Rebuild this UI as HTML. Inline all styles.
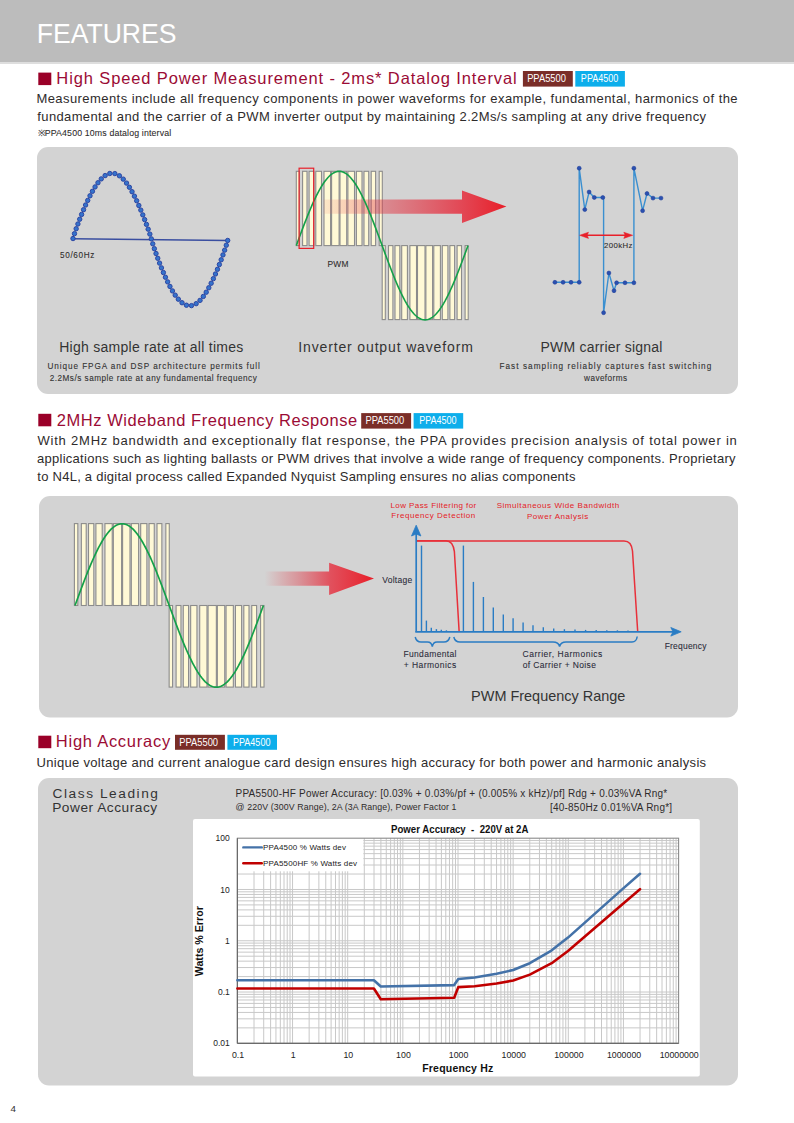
<!DOCTYPE html><html><head><meta charset="utf-8"><style>html,body{margin:0;padding:0;background:#fff;width:794px;height:1123px;overflow:hidden}svg{display:block}text{font-family:"Liberation Sans",sans-serif;white-space:pre}</style></head><body>
<svg width="794" height="1123" viewBox="0 0 794 1123">
<defs><linearGradient id="arrowg" x1="0" y1="0" x2="1" y2="0"><stop offset="0" stop-color="#e8202a" stop-opacity="0"/><stop offset="0.35" stop-color="#e23040" stop-opacity="0.45"/><stop offset="1" stop-color="#e8202a" stop-opacity="1"/></linearGradient></defs>
<rect x="0" y="0" width="794" height="62" fill="#bcbcbc"/>
<rect x="0" y="62" width="794" height="2" fill="#dedede"/>
<text x="36.72" y="42.90" font-size="28.5" fill="#ffffff" textLength="139.80" lengthAdjust="spacingAndGlyphs" >FEATURES</text>
<rect x="38.3" y="72.60" width="13" height="12.5" fill="#9a0028"/>
<text x="56.35" y="84.00" font-size="16.5" fill="#9b0b35" textLength="460.26" lengthAdjust="spacing" >High Speed Power Measurement - 2ms* Datalog Interval</text>
<rect x="522.90" y="71.00" width="49.90" height="15.60" fill="#7a2e28"/>
<text x="527.13" y="82.00" font-size="10.8" fill="#ffffff" textLength="38.83" lengthAdjust="spacingAndGlyphs" >PPA5500</text>
<rect x="575.30" y="71.00" width="49.60" height="15.60" fill="#0daeeb"/>
<text x="580.86" y="82.00" font-size="10.8" fill="#ffffff" textLength="37.49" lengthAdjust="spacingAndGlyphs" >PPA4500</text>
<text x="36.43" y="103.00" font-size="13" fill="#2e2b2b" textLength="701.14" lengthAdjust="spacing" >Measurements include all frequency components in power waveforms for example, fundamental, harmonics of the</text>
<text x="37.32" y="121.00" font-size="13" fill="#2e2b2b" textLength="668.71" lengthAdjust="spacing" >fundamental and the carrier of a PWM inverter output by maintaining 2.2Ms/s sampling at any drive frequency</text>
<text x="37.60" y="135.60" font-size="8.8" fill="#2e2b2b" textLength="133.59" lengthAdjust="spacing" stroke="#2e2b2b" stroke-width="0.08">※PPA4500 10ms datalog interval</text>
<rect x="37" y="147" width="701" height="247" rx="11" ry="11" fill="#d3d3d3"/>
<line x1="73.0" y1="238.7" x2="227.7" y2="240.6" stroke="#3a4ea0" stroke-width="1.5"/>
<circle cx="73.00" cy="238.55" r="2.2" fill="#3573cc" stroke="#2a42a0" stroke-width="0.95"/>
<circle cx="74.49" cy="233.65" r="2.2" fill="#3573cc" stroke="#2a42a0" stroke-width="0.95"/>
<circle cx="76.18" cy="228.74" r="2.2" fill="#3573cc" stroke="#2a42a0" stroke-width="0.95"/>
<circle cx="77.91" cy="223.98" r="2.2" fill="#3573cc" stroke="#2a42a0" stroke-width="0.95"/>
<circle cx="79.71" cy="219.21" r="2.2" fill="#3573cc" stroke="#2a42a0" stroke-width="0.95"/>
<circle cx="81.60" cy="214.45" r="2.2" fill="#3573cc" stroke="#2a42a0" stroke-width="0.95"/>
<circle cx="83.56" cy="209.70" r="2.2" fill="#3573cc" stroke="#2a42a0" stroke-width="0.95"/>
<circle cx="85.60" cy="205.01" r="2.2" fill="#3573cc" stroke="#2a42a0" stroke-width="0.95"/>
<circle cx="87.72" cy="200.41" r="2.2" fill="#3573cc" stroke="#2a42a0" stroke-width="0.95"/>
<circle cx="90.00" cy="195.81" r="2.2" fill="#3573cc" stroke="#2a42a0" stroke-width="0.95"/>
<circle cx="92.43" cy="191.30" r="2.2" fill="#3573cc" stroke="#2a42a0" stroke-width="0.95"/>
<circle cx="95.06" cy="186.93" r="2.2" fill="#3573cc" stroke="#2a42a0" stroke-width="0.95"/>
<circle cx="97.96" cy="182.75" r="2.2" fill="#3573cc" stroke="#2a42a0" stroke-width="0.95"/>
<circle cx="101.26" cy="178.88" r="2.2" fill="#3573cc" stroke="#2a42a0" stroke-width="0.95"/>
<circle cx="105.15" cy="175.57" r="2.2" fill="#3573cc" stroke="#2a42a0" stroke-width="0.95"/>
<circle cx="109.78" cy="173.49" r="2.2" fill="#3573cc" stroke="#2a42a0" stroke-width="0.95"/>
<circle cx="114.84" cy="173.58" r="2.2" fill="#3573cc" stroke="#2a42a0" stroke-width="0.95"/>
<circle cx="119.43" cy="175.80" r="2.2" fill="#3573cc" stroke="#2a42a0" stroke-width="0.95"/>
<circle cx="123.24" cy="179.14" r="2.2" fill="#3573cc" stroke="#2a42a0" stroke-width="0.95"/>
<circle cx="126.54" cy="183.09" r="2.2" fill="#3573cc" stroke="#2a42a0" stroke-width="0.95"/>
<circle cx="129.40" cy="187.28" r="2.2" fill="#3573cc" stroke="#2a42a0" stroke-width="0.95"/>
<circle cx="132.03" cy="191.71" r="2.2" fill="#3573cc" stroke="#2a42a0" stroke-width="0.95"/>
<circle cx="134.43" cy="196.19" r="2.2" fill="#3573cc" stroke="#2a42a0" stroke-width="0.95"/>
<circle cx="136.66" cy="200.76" r="2.2" fill="#3573cc" stroke="#2a42a0" stroke-width="0.95"/>
<circle cx="138.82" cy="205.48" r="2.2" fill="#3573cc" stroke="#2a42a0" stroke-width="0.95"/>
<circle cx="140.82" cy="210.11" r="2.2" fill="#3573cc" stroke="#2a42a0" stroke-width="0.95"/>
<circle cx="142.79" cy="214.89" r="2.2" fill="#3573cc" stroke="#2a42a0" stroke-width="0.95"/>
<circle cx="144.63" cy="219.59" r="2.2" fill="#3573cc" stroke="#2a42a0" stroke-width="0.95"/>
<circle cx="146.44" cy="224.38" r="2.2" fill="#3573cc" stroke="#2a42a0" stroke-width="0.95"/>
<circle cx="148.16" cy="229.17" r="2.2" fill="#3573cc" stroke="#2a42a0" stroke-width="0.95"/>
<circle cx="149.85" cy="234.09" r="2.2" fill="#3573cc" stroke="#2a42a0" stroke-width="0.95"/>
<circle cx="151.34" cy="238.88" r="2.2" fill="#3573cc" stroke="#2a42a0" stroke-width="0.95"/>
<circle cx="152.76" cy="243.84" r="2.2" fill="#3573cc" stroke="#2a42a0" stroke-width="0.95"/>
<circle cx="154.36" cy="248.71" r="2.2" fill="#3573cc" stroke="#2a42a0" stroke-width="0.95"/>
<circle cx="156.03" cy="253.55" r="2.2" fill="#3573cc" stroke="#2a42a0" stroke-width="0.95"/>
<circle cx="157.75" cy="258.28" r="2.2" fill="#3573cc" stroke="#2a42a0" stroke-width="0.95"/>
<circle cx="159.58" cy="263.12" r="2.2" fill="#3573cc" stroke="#2a42a0" stroke-width="0.95"/>
<circle cx="161.44" cy="267.85" r="2.2" fill="#3573cc" stroke="#2a42a0" stroke-width="0.95"/>
<circle cx="163.39" cy="272.55" r="2.2" fill="#3573cc" stroke="#2a42a0" stroke-width="0.95"/>
<circle cx="165.44" cy="277.24" r="2.2" fill="#3573cc" stroke="#2a42a0" stroke-width="0.95"/>
<circle cx="167.62" cy="281.87" r="2.2" fill="#3573cc" stroke="#2a42a0" stroke-width="0.95"/>
<circle cx="169.94" cy="286.44" r="2.2" fill="#3573cc" stroke="#2a42a0" stroke-width="0.95"/>
<circle cx="172.45" cy="290.90" r="2.2" fill="#3573cc" stroke="#2a42a0" stroke-width="0.95"/>
<circle cx="175.20" cy="295.16" r="2.2" fill="#3573cc" stroke="#2a42a0" stroke-width="0.95"/>
<circle cx="178.32" cy="299.18" r="2.2" fill="#3573cc" stroke="#2a42a0" stroke-width="0.95"/>
<circle cx="182.02" cy="302.74" r="2.2" fill="#3573cc" stroke="#2a42a0" stroke-width="0.95"/>
<circle cx="186.44" cy="305.22" r="2.2" fill="#3573cc" stroke="#2a42a0" stroke-width="0.95"/>
<circle cx="191.47" cy="305.62" r="2.2" fill="#3573cc" stroke="#2a42a0" stroke-width="0.95"/>
<circle cx="196.15" cy="303.66" r="2.2" fill="#3573cc" stroke="#2a42a0" stroke-width="0.95"/>
<circle cx="200.04" cy="300.36" r="2.2" fill="#3573cc" stroke="#2a42a0" stroke-width="0.95"/>
<circle cx="203.35" cy="296.41" r="2.2" fill="#3573cc" stroke="#2a42a0" stroke-width="0.95"/>
<circle cx="206.21" cy="292.20" r="2.2" fill="#3573cc" stroke="#2a42a0" stroke-width="0.95"/>
<circle cx="208.80" cy="287.77" r="2.2" fill="#3573cc" stroke="#2a42a0" stroke-width="0.95"/>
<circle cx="211.16" cy="283.27" r="2.2" fill="#3573cc" stroke="#2a42a0" stroke-width="0.95"/>
<circle cx="213.37" cy="278.67" r="2.2" fill="#3573cc" stroke="#2a42a0" stroke-width="0.95"/>
<circle cx="215.47" cy="273.99" r="2.2" fill="#3573cc" stroke="#2a42a0" stroke-width="0.95"/>
<circle cx="217.45" cy="269.30" r="2.2" fill="#3573cc" stroke="#2a42a0" stroke-width="0.95"/>
<circle cx="219.36" cy="264.55" r="2.2" fill="#3573cc" stroke="#2a42a0" stroke-width="0.95"/>
<circle cx="221.18" cy="259.79" r="2.2" fill="#3573cc" stroke="#2a42a0" stroke-width="0.95"/>
<circle cx="222.98" cy="254.91" r="2.2" fill="#3573cc" stroke="#2a42a0" stroke-width="0.95"/>
<circle cx="224.65" cy="250.15" r="2.2" fill="#3573cc" stroke="#2a42a0" stroke-width="0.95"/>
<circle cx="226.29" cy="245.23" r="2.2" fill="#3573cc" stroke="#2a42a0" stroke-width="0.95"/>
<circle cx="227.70" cy="240.45" r="2.2" fill="#3573cc" stroke="#2a42a0" stroke-width="0.95"/>
<text x="59.97" y="258.00" font-size="8.2" fill="#2e2b2b" textLength="34.44" lengthAdjust="spacing" stroke="#2e2b2b" stroke-width="0.08">50/60Hz</text>
<rect x="296.30" y="171.30" width="3.10" height="74.30" fill="#fff9d6" stroke="#8c8c8c" stroke-width="1.1"/>
<rect x="302.60" y="171.30" width="4.40" height="74.30" fill="#fff9d6" stroke="#8c8c8c" stroke-width="1.1"/>
<rect x="309.10" y="171.30" width="4.80" height="74.30" fill="#fff9d6" stroke="#8c8c8c" stroke-width="1.1"/>
<rect x="315.80" y="171.30" width="5.70" height="74.30" fill="#fff9d6" stroke="#8c8c8c" stroke-width="1.1"/>
<rect x="324.00" y="171.30" width="6.60" height="74.30" fill="#fff9d6" stroke="#8c8c8c" stroke-width="1.1"/>
<rect x="331.60" y="171.30" width="7.50" height="74.30" fill="#fff9d6" stroke="#8c8c8c" stroke-width="1.1"/>
<rect x="340.00" y="171.30" width="6.70" height="74.30" fill="#fff9d6" stroke="#8c8c8c" stroke-width="1.1"/>
<rect x="347.90" y="171.30" width="6.60" height="74.30" fill="#fff9d6" stroke="#8c8c8c" stroke-width="1.1"/>
<rect x="356.40" y="171.30" width="5.60" height="74.30" fill="#fff9d6" stroke="#8c8c8c" stroke-width="1.1"/>
<rect x="364.00" y="171.30" width="4.70" height="74.30" fill="#fff9d6" stroke="#8c8c8c" stroke-width="1.1"/>
<rect x="371.20" y="171.30" width="4.40" height="74.30" fill="#fff9d6" stroke="#8c8c8c" stroke-width="1.1"/>
<rect x="379.20" y="171.30" width="3.10" height="74.30" fill="#fff9d6" stroke="#8c8c8c" stroke-width="1.1"/>
<rect x="382.20" y="245.60" width="3.10" height="74.00" fill="#fff9d6" stroke="#8c8c8c" stroke-width="1.1"/>
<rect x="388.50" y="245.60" width="4.40" height="74.00" fill="#fff9d6" stroke="#8c8c8c" stroke-width="1.1"/>
<rect x="395.00" y="245.60" width="4.80" height="74.00" fill="#fff9d6" stroke="#8c8c8c" stroke-width="1.1"/>
<rect x="401.70" y="245.60" width="5.70" height="74.00" fill="#fff9d6" stroke="#8c8c8c" stroke-width="1.1"/>
<rect x="409.90" y="245.60" width="6.60" height="74.00" fill="#fff9d6" stroke="#8c8c8c" stroke-width="1.1"/>
<rect x="417.50" y="245.60" width="7.50" height="74.00" fill="#fff9d6" stroke="#8c8c8c" stroke-width="1.1"/>
<rect x="425.90" y="245.60" width="6.70" height="74.00" fill="#fff9d6" stroke="#8c8c8c" stroke-width="1.1"/>
<rect x="433.80" y="245.60" width="6.60" height="74.00" fill="#fff9d6" stroke="#8c8c8c" stroke-width="1.1"/>
<rect x="442.30" y="245.60" width="5.60" height="74.00" fill="#fff9d6" stroke="#8c8c8c" stroke-width="1.1"/>
<rect x="449.90" y="245.60" width="4.70" height="74.00" fill="#fff9d6" stroke="#8c8c8c" stroke-width="1.1"/>
<rect x="457.10" y="245.60" width="4.40" height="74.00" fill="#fff9d6" stroke="#8c8c8c" stroke-width="1.1"/>
<rect x="465.10" y="245.60" width="3.10" height="74.00" fill="#fff9d6" stroke="#8c8c8c" stroke-width="1.1"/>
<linearGradient id="ag1" gradientUnits="userSpaceOnUse" x1="323.5" y1="0" x2="506.4" y2="0"><stop offset="0" stop-color="#f07060" stop-opacity="0.12"/><stop offset="0.3" stop-color="#e03a48" stop-opacity="0.45"/><stop offset="0.75" stop-color="#e53040" stop-opacity="0.85"/><stop offset="1" stop-color="#e81e28" stop-opacity="1"/></linearGradient>
<path d="M323.5,199.4 L462,199.4 L462,190.5 L506.4,206.6 L462,223 L462,213.8 L323.5,213.8 Z" fill="url(#ag1)"/>
<path d="M296.30,245.60L297.73,241.71L299.16,237.83L300.59,233.98L302.02,230.15L303.45,226.37L304.88,222.64L306.32,218.97L307.75,215.38L309.18,211.87L310.61,208.45L312.04,205.13L313.47,201.93L314.90,198.84L316.33,195.88L317.76,193.06L319.19,190.38L320.62,187.86L322.06,185.49L323.49,183.29L324.92,181.25L326.35,179.40L327.78,177.72L329.21,176.23L330.64,174.94L332.07,173.83L333.50,172.92L334.93,172.21L336.36,171.71L337.79,171.40L339.23,171.30L340.66,171.40L342.09,171.71L343.52,172.21L344.95,172.92L346.38,173.83L347.81,174.94L349.24,176.23L350.67,177.72L352.10,179.40L353.53,181.25L354.96,183.29L356.39,185.49L357.83,187.86L359.26,190.38L360.69,193.06L362.12,195.88L363.55,198.84L364.98,201.93L366.41,205.13L367.84,208.45L369.27,211.87L370.70,215.38L372.13,218.97L373.56,222.64L375.00,226.37L376.43,230.15L377.86,233.98L379.29,237.83L380.72,241.71L382.15,245.60L383.58,249.49L385.01,253.37L386.44,257.22L387.87,261.05L389.30,264.83L390.74,268.56L392.17,272.23L393.60,275.82L395.03,279.33L396.46,282.75L397.89,286.07L399.32,289.27L400.75,292.36L402.18,295.32L403.61,298.14L405.04,300.82L406.47,303.34L407.90,305.71L409.34,307.91L410.77,309.95L412.20,311.80L413.63,313.48L415.06,314.97L416.49,316.26L417.92,317.37L419.35,318.28L420.78,318.99L422.21,319.49L423.64,319.80L425.07,319.90L426.51,319.80L427.94,319.49L429.37,318.99L430.80,318.28L432.23,317.37L433.66,316.26L435.09,314.97L436.52,313.48L437.95,311.80L439.38,309.95L440.81,307.91L442.25,305.71L443.68,303.34L445.11,300.82L446.54,298.14L447.97,295.32L449.40,292.36L450.83,289.27L452.26,286.07L453.69,282.75L455.12,279.33L456.55,275.82L457.98,272.23L459.41,268.56L460.85,264.83L462.28,261.05L463.71,257.22L465.14,253.37L466.57,249.49L468.00,245.60" fill="none" stroke="#14a04a" stroke-width="1.6"/>
<rect x="299.1" y="168.2" width="14.6" height="80.2" fill="none" stroke="#e8202a" stroke-width="1.2"/>
<text x="327.41" y="267.00" font-size="8.4" fill="#2e2b2b" textLength="20.98" lengthAdjust="spacing" stroke="#2e2b2b" stroke-width="0.08">PWM</text>
<path d="M554.90,282.30L579.20,282.30L579.20,168.20L584.80,209.60L589.10,192.00L594.30,197.50L603.60,197.50L603.60,312.70L608.90,273.00L614.00,290.70L616.60,282.80L633.90,282.80L633.90,168.20L642.60,210.70L647.00,193.50L653.00,198.10L661.00,198.10" fill="none" stroke="#3a8fd0" stroke-width="1.4"/>
<circle cx="554.9" cy="282.3" r="1.95" fill="#2a50b0" stroke="#22409a" stroke-width="0.6"/>
<circle cx="563.1" cy="282.3" r="1.95" fill="#2a50b0" stroke="#22409a" stroke-width="0.6"/>
<circle cx="571.0" cy="282.3" r="1.95" fill="#2a50b0" stroke="#22409a" stroke-width="0.6"/>
<circle cx="579.2" cy="282.3" r="1.95" fill="#2a50b0" stroke="#22409a" stroke-width="0.6"/>
<circle cx="579.2" cy="168.2" r="1.95" fill="#2a50b0" stroke="#22409a" stroke-width="0.6"/>
<circle cx="584.8" cy="209.6" r="1.95" fill="#2a50b0" stroke="#22409a" stroke-width="0.6"/>
<circle cx="589.1" cy="192.0" r="1.95" fill="#2a50b0" stroke="#22409a" stroke-width="0.6"/>
<circle cx="594.3" cy="197.5" r="1.95" fill="#2a50b0" stroke="#22409a" stroke-width="0.6"/>
<circle cx="602.8" cy="197.5" r="1.95" fill="#2a50b0" stroke="#22409a" stroke-width="0.6"/>
<circle cx="603.6" cy="312.7" r="1.95" fill="#2a50b0" stroke="#22409a" stroke-width="0.6"/>
<circle cx="608.9" cy="273.0" r="1.95" fill="#2a50b0" stroke="#22409a" stroke-width="0.6"/>
<circle cx="614.0" cy="290.7" r="1.95" fill="#2a50b0" stroke="#22409a" stroke-width="0.6"/>
<circle cx="616.6" cy="282.8" r="1.95" fill="#2a50b0" stroke="#22409a" stroke-width="0.6"/>
<circle cx="625.0" cy="282.8" r="1.95" fill="#2a50b0" stroke="#22409a" stroke-width="0.6"/>
<circle cx="633.9" cy="282.8" r="1.95" fill="#2a50b0" stroke="#22409a" stroke-width="0.6"/>
<circle cx="633.9" cy="168.2" r="1.95" fill="#2a50b0" stroke="#22409a" stroke-width="0.6"/>
<circle cx="642.6" cy="210.7" r="1.95" fill="#2a50b0" stroke="#22409a" stroke-width="0.6"/>
<circle cx="647.0" cy="193.5" r="1.95" fill="#2a50b0" stroke="#22409a" stroke-width="0.6"/>
<circle cx="653.0" cy="198.1" r="1.95" fill="#2a50b0" stroke="#22409a" stroke-width="0.6"/>
<circle cx="661.0" cy="198.1" r="1.95" fill="#2a50b0" stroke="#22409a" stroke-width="0.6"/>
<line x1="585" y1="235.3" x2="627" y2="235.3" stroke="#e8202a" stroke-width="1.6"/>
<path d="M579.6,235.3 L588.5,232.2 L587.2,235.3 L588.5,238.4 Z" fill="#e8202a" stroke="#e8202a" stroke-width="0.5"/>
<path d="M632.7,235.3 L623.8,232.2 L625.1,235.3 L623.8,238.4 Z" fill="#e8202a" stroke="#e8202a" stroke-width="0.5"/>
<text x="604.11" y="247.80" font-size="7.8" fill="#2e2b2b" textLength="28.18" lengthAdjust="spacing" stroke="#2e2b2b" stroke-width="0.08">200kHz</text>
<text x="59.15" y="352.40" font-size="14" fill="#333" textLength="184.15" lengthAdjust="spacing" >High sample rate at all times</text>
<text x="47.47" y="369.20" font-size="8.2" fill="#333" textLength="212.38" lengthAdjust="spacing" stroke="#2a2a2a" stroke-width="0.1">Unique FPGA and DSP architecture permits full</text>
<text x="49.69" y="381.30" font-size="8.2" fill="#333" textLength="207.03" lengthAdjust="spacing" stroke="#2a2a2a" stroke-width="0.1">2.2Ms/s sample rate at any fundamental frequency</text>
<text x="298.31" y="352.10" font-size="14" fill="#333" textLength="174.51" lengthAdjust="spacing" >Inverter output waveform</text>
<text x="540.45" y="352.40" font-size="14" fill="#333" textLength="121.98" lengthAdjust="spacing" >PWM carrier signal</text>
<text x="499.43" y="369.20" font-size="8.2" fill="#333" textLength="211.80" lengthAdjust="spacing" stroke="#2a2a2a" stroke-width="0.1">Fast sampling reliably captures fast switching</text>
<text x="584.11" y="381.30" font-size="8.2" fill="#333" textLength="42.88" lengthAdjust="spacing" stroke="#2a2a2a" stroke-width="0.1">waveforms</text>
<rect x="38.3" y="413.80" width="13" height="12.5" fill="#9a0028"/>
<text x="56.77" y="425.70" font-size="16.5" fill="#9b0b35" textLength="300.46" lengthAdjust="spacing" >2MHz Wideband Frequency Response</text>
<rect x="361.20" y="413.10" width="49.90" height="15.50" fill="#7a2e28"/>
<text x="365.43" y="424.10" font-size="10.8" fill="#ffffff" textLength="38.83" lengthAdjust="spacingAndGlyphs" >PPA5500</text>
<rect x="413.60" y="413.10" width="49.60" height="15.50" fill="#0daeeb"/>
<text x="419.16" y="424.10" font-size="10.8" fill="#ffffff" textLength="37.49" lengthAdjust="spacingAndGlyphs" >PPA4500</text>
<text x="37.44" y="444.80" font-size="13" fill="#2e2b2b" textLength="699.40" lengthAdjust="spacing" >With 2MHz bandwidth and exceptionally flat response, the PPA provides precision analysis of total power in</text>
<text x="36.95" y="462.80" font-size="13" fill="#2e2b2b" textLength="698.58" lengthAdjust="spacing" >applications such as lighting ballasts or PWM drives that involve a wide range of frequency components. Proprietary</text>
<text x="37.30" y="480.80" font-size="13" fill="#2e2b2b" textLength="538.17" lengthAdjust="spacing" >to N4L, a digital process called Expanded Nyquist Sampling ensures no alias components</text>
<rect x="39" y="496" width="699" height="221.5" rx="11" ry="11" fill="#d3d3d3"/>
<rect x="74.40" y="523.60" width="3.42" height="81.90" fill="#fff9d6" stroke="#8c8c8c" stroke-width="1.1"/>
<rect x="81.35" y="523.60" width="4.85" height="81.90" fill="#fff9d6" stroke="#8c8c8c" stroke-width="1.1"/>
<rect x="88.52" y="523.60" width="5.29" height="81.90" fill="#fff9d6" stroke="#8c8c8c" stroke-width="1.1"/>
<rect x="95.91" y="523.60" width="6.29" height="81.90" fill="#fff9d6" stroke="#8c8c8c" stroke-width="1.1"/>
<rect x="104.95" y="523.60" width="7.28" height="81.90" fill="#fff9d6" stroke="#8c8c8c" stroke-width="1.1"/>
<rect x="113.34" y="523.60" width="8.27" height="81.90" fill="#fff9d6" stroke="#8c8c8c" stroke-width="1.1"/>
<rect x="122.60" y="523.60" width="7.39" height="81.90" fill="#fff9d6" stroke="#8c8c8c" stroke-width="1.1"/>
<rect x="131.31" y="523.60" width="7.28" height="81.90" fill="#fff9d6" stroke="#8c8c8c" stroke-width="1.1"/>
<rect x="140.69" y="523.60" width="6.18" height="81.90" fill="#fff9d6" stroke="#8c8c8c" stroke-width="1.1"/>
<rect x="149.07" y="523.60" width="5.18" height="81.90" fill="#fff9d6" stroke="#8c8c8c" stroke-width="1.1"/>
<rect x="157.01" y="523.60" width="4.85" height="81.90" fill="#fff9d6" stroke="#8c8c8c" stroke-width="1.1"/>
<rect x="165.84" y="523.60" width="3.42" height="81.90" fill="#fff9d6" stroke="#8c8c8c" stroke-width="1.1"/>
<rect x="169.15" y="605.50" width="3.42" height="81.60" fill="#fff9d6" stroke="#8c8c8c" stroke-width="1.1"/>
<rect x="176.10" y="605.50" width="4.85" height="81.60" fill="#fff9d6" stroke="#8c8c8c" stroke-width="1.1"/>
<rect x="183.27" y="605.50" width="5.29" height="81.60" fill="#fff9d6" stroke="#8c8c8c" stroke-width="1.1"/>
<rect x="190.66" y="605.50" width="6.29" height="81.60" fill="#fff9d6" stroke="#8c8c8c" stroke-width="1.1"/>
<rect x="199.70" y="605.50" width="7.28" height="81.60" fill="#fff9d6" stroke="#8c8c8c" stroke-width="1.1"/>
<rect x="208.08" y="605.50" width="8.27" height="81.60" fill="#fff9d6" stroke="#8c8c8c" stroke-width="1.1"/>
<rect x="217.35" y="605.50" width="7.39" height="81.60" fill="#fff9d6" stroke="#8c8c8c" stroke-width="1.1"/>
<rect x="226.06" y="605.50" width="7.28" height="81.60" fill="#fff9d6" stroke="#8c8c8c" stroke-width="1.1"/>
<rect x="235.44" y="605.50" width="6.18" height="81.60" fill="#fff9d6" stroke="#8c8c8c" stroke-width="1.1"/>
<rect x="243.82" y="605.50" width="5.18" height="81.60" fill="#fff9d6" stroke="#8c8c8c" stroke-width="1.1"/>
<rect x="251.76" y="605.50" width="4.85" height="81.60" fill="#fff9d6" stroke="#8c8c8c" stroke-width="1.1"/>
<rect x="260.59" y="605.50" width="3.42" height="81.60" fill="#fff9d6" stroke="#8c8c8c" stroke-width="1.1"/>
<linearGradient id="ag2" gradientUnits="userSpaceOnUse" x1="264.7" y1="0" x2="374" y2="0"><stop offset="0" stop-color="#e8303a" stop-opacity="0"/><stop offset="0.3" stop-color="#e03a48" stop-opacity="0.4"/><stop offset="0.6" stop-color="#e53040" stop-opacity="0.8"/><stop offset="1" stop-color="#e81e28" stop-opacity="1"/></linearGradient>
<path d="M264.7,571.5 L329.1,571.5 L329.1,562.7 L374,578.6 L329.1,595 L329.1,585.8 L264.7,585.8 Z" fill="url(#ag2)"/>
<path d="M75.00,605.50L76.57,601.22L78.14,596.96L79.71,592.72L81.28,588.51L82.85,584.35L84.42,580.25L85.99,576.22L87.56,572.27L89.13,568.41L90.70,564.65L92.27,561.00L93.84,557.48L95.41,554.08L96.98,550.83L98.55,547.73L100.12,544.79L101.69,542.01L103.26,539.40L104.83,536.98L106.40,534.75L107.97,532.70L109.54,530.86L111.11,529.23L112.68,527.80L114.25,526.58L115.82,525.59L117.39,524.81L118.96,524.25L120.53,523.91L122.10,523.80L123.67,523.91L125.24,524.25L126.81,524.81L128.38,525.59L129.95,526.58L131.52,527.80L133.09,529.23L134.66,530.86L136.23,532.70L137.80,534.75L139.37,536.98L140.94,539.40L142.51,542.01L144.08,544.79L145.65,547.73L147.22,550.83L148.79,554.08L150.36,557.48L151.93,561.00L153.50,564.65L155.07,568.41L156.64,572.27L158.21,576.22L159.78,580.25L161.35,584.35L162.92,588.51L164.49,592.72L166.06,596.96L167.63,601.22L169.20,605.50L170.77,609.78L172.34,614.04L173.91,618.28L175.48,622.49L177.05,626.65L178.62,630.75L180.19,634.78L181.76,638.73L183.33,642.59L184.90,646.35L186.47,650.00L188.04,653.52L189.61,656.92L191.18,660.17L192.75,663.27L194.32,666.21L195.89,668.99L197.46,671.60L199.03,674.02L200.60,676.25L202.17,678.30L203.74,680.14L205.31,681.77L206.88,683.20L208.45,684.42L210.02,685.41L211.59,686.19L213.16,686.75L214.73,687.09L216.30,687.20L217.87,687.09L219.44,686.75L221.01,686.19L222.58,685.41L224.15,684.42L225.72,683.20L227.29,681.77L228.86,680.14L230.43,678.30L232.00,676.25L233.57,674.02L235.14,671.60L236.71,668.99L238.28,666.21L239.85,663.27L241.42,660.17L242.99,656.92L244.56,653.52L246.13,650.00L247.70,646.35L249.27,642.59L250.84,638.73L252.41,634.78L253.98,630.75L255.55,626.65L257.12,622.49L258.69,618.28L260.26,614.04L261.83,609.78L263.40,605.50" fill="none" stroke="#14a04a" stroke-width="1.7"/>
<path d="M417,540.7 L446,540.7 Q453,540.7 454.4,551.7 L459.1,631" fill="none" stroke="#e8303a" stroke-width="1.5"/>
<path d="M417,541 L624,541 Q631.5,541 632.5,551 L637.7,631.5" fill="none" stroke="#e8303a" stroke-width="1.5"/>
<line x1="421.5" y1="631.8" x2="421.5" y2="545.6" stroke="#2a7cc4" stroke-width="1.4"/>
<line x1="426.4" y1="631.8" x2="426.4" y2="620.6" stroke="#2a7cc4" stroke-width="1.4"/>
<line x1="431.3" y1="631.8" x2="431.3" y2="627.8" stroke="#2a7cc4" stroke-width="1.4"/>
<line x1="436.4" y1="631.8" x2="436.4" y2="629.1" stroke="#2a7cc4" stroke-width="1.4"/>
<line x1="441.3" y1="631.8" x2="441.3" y2="629.7" stroke="#2a7cc4" stroke-width="1.4"/>
<line x1="446.4" y1="631.8" x2="446.4" y2="630.3" stroke="#2a7cc4" stroke-width="1.4"/>
<line x1="463.4" y1="631.8" x2="463.4" y2="545.6" stroke="#2a7cc4" stroke-width="1.4"/>
<line x1="473.4" y1="631.8" x2="473.4" y2="581.9" stroke="#2a7cc4" stroke-width="1.4"/>
<line x1="483.4" y1="631.8" x2="483.4" y2="597.0" stroke="#2a7cc4" stroke-width="1.4"/>
<line x1="493.3" y1="631.8" x2="493.3" y2="607.6" stroke="#2a7cc4" stroke-width="1.4"/>
<line x1="503.3" y1="631.8" x2="503.3" y2="614.4" stroke="#2a7cc4" stroke-width="1.4"/>
<line x1="513.1" y1="631.8" x2="513.1" y2="618.2" stroke="#2a7cc4" stroke-width="1.4"/>
<line x1="523.1" y1="631.8" x2="523.1" y2="622.5" stroke="#2a7cc4" stroke-width="1.4"/>
<line x1="533.0" y1="631.8" x2="533.0" y2="625.2" stroke="#2a7cc4" stroke-width="1.4"/>
<line x1="543.3" y1="631.8" x2="543.3" y2="627.2" stroke="#2a7cc4" stroke-width="1.4"/>
<line x1="553.7" y1="631.8" x2="553.7" y2="628.5" stroke="#2a7cc4" stroke-width="1.4"/>
<line x1="564.4" y1="631.8" x2="564.4" y2="629.2" stroke="#2a7cc4" stroke-width="1.4"/>
<line x1="575.0" y1="631.8" x2="575.0" y2="629.6" stroke="#2a7cc4" stroke-width="1.4"/>
<line x1="585.6" y1="631.8" x2="585.6" y2="629.9" stroke="#2a7cc4" stroke-width="1.4"/>
<line x1="596.2" y1="631.8" x2="596.2" y2="630.1" stroke="#2a7cc4" stroke-width="1.4"/>
<line x1="606.8" y1="631.8" x2="606.8" y2="630.2" stroke="#2a7cc4" stroke-width="1.4"/>
<line x1="617.4" y1="631.8" x2="617.4" y2="630.3" stroke="#2a7cc4" stroke-width="1.4"/>
<line x1="628.0" y1="631.8" x2="628.0" y2="630.4" stroke="#2a7cc4" stroke-width="1.4"/>
<line x1="416.2" y1="631.8" x2="416.2" y2="533" stroke="#2a7cc4" stroke-width="1.7"/>
<path d="M416.2,525.2 L420.9,536 L416.2,534 L411.5,536 Z" fill="#2a7cc4" stroke="#2a7cc4" stroke-width="0.8"/>
<line x1="415.3" y1="631.8" x2="673" y2="631.8" stroke="#2a7cc4" stroke-width="1.7"/>
<path d="M681.2,631.8 L670.8,627.5 L673,631.8 L670.8,636.1 Z" fill="#2a7cc4" stroke="#2a7cc4" stroke-width="0.8"/>
<path d="M415.2,637 Q416.5,642 421,642 L427.5,642 Q431.5,642 432.3,646.5 Q433.1,642 437,642 L444,642 Q448.5,642 449.8,637" fill="none" stroke="#2a7cc4" stroke-width="1.5"/>
<path d="M453.8,637 Q455,642 460,642 L553,642 Q558.5,642 559.6,646.5 Q560.7,642 566,642 L632,642 Q636.5,642 637.2,636.5" fill="none" stroke="#2a7cc4" stroke-width="1.5"/>
<text x="390.44" y="507.80" font-size="8" fill="#e41c28" textLength="85.79" lengthAdjust="spacing" >Low Pass Filtering for</text>
<text x="391.34" y="517.70" font-size="8" fill="#e41c28" textLength="83.98" lengthAdjust="spacing" >Frequency Detection</text>
<text x="496.64" y="508.40" font-size="8" fill="#e41c28" textLength="122.68" lengthAdjust="spacing" >Simultaneous Wide Bandwidth</text>
<text x="526.94" y="519.40" font-size="8" fill="#e41c28" textLength="61.35" lengthAdjust="spacing" >Power Analysis</text>
<text x="382.16" y="582.90" font-size="8.5" fill="#2b2b3a" textLength="30.02" lengthAdjust="spacing" stroke="#2b2b3a" stroke-width="0.08">Voltage</text>
<text x="664.70" y="649.10" font-size="8.5" fill="#2b2b3a" textLength="41.71" lengthAdjust="spacing" stroke="#2b2b3a" stroke-width="0.08">Frequency</text>
<text x="403.40" y="657.20" font-size="8.5" fill="#2b2b3a" textLength="53.07" lengthAdjust="spacing" stroke="#2b2b3a" stroke-width="0.08">Fundamental</text>
<text x="403.68" y="667.70" font-size="8.5" fill="#2b2b3a" textLength="52.52" lengthAdjust="spacing" stroke="#2b2b3a" stroke-width="0.08">+ Harmonics</text>
<text x="522.57" y="656.90" font-size="8.5" fill="#2b2b3a" textLength="79.74" lengthAdjust="spacing" stroke="#2b2b3a" stroke-width="0.08">Carrier, Harmonics</text>
<text x="522.64" y="668.00" font-size="8.5" fill="#2b2b3a" textLength="73.33" lengthAdjust="spacing" stroke="#2b2b3a" stroke-width="0.08">of Carrier + Noise</text>
<text x="471.11" y="700.50" font-size="15" fill="#333" textLength="154.23" lengthAdjust="spacingAndGlyphs" >PWM Frequency Range</text>
<rect x="38.3" y="735.70" width="13" height="12.5" fill="#9a0028"/>
<text x="55.85" y="747.00" font-size="16.5" fill="#9b0b35" textLength="114.29" lengthAdjust="spacing" >High Accuracy</text>
<rect x="175.00" y="734.80" width="49.90" height="15.00" fill="#7a2e28"/>
<text x="179.23" y="745.80" font-size="10.8" fill="#ffffff" textLength="38.83" lengthAdjust="spacingAndGlyphs" >PPA5500</text>
<rect x="227.40" y="734.80" width="49.60" height="15.00" fill="#0daeeb"/>
<text x="232.96" y="745.80" font-size="10.8" fill="#ffffff" textLength="37.49" lengthAdjust="spacingAndGlyphs" >PPA4500</text>
<text x="36.50" y="766.90" font-size="13" fill="#2e2b2b" textLength="669.57" lengthAdjust="spacing" >Unique voltage and current analogue card design ensures high accuracy for both power and harmonic analysis</text>
<rect x="38" y="778" width="700" height="307.5" rx="11" ry="11" fill="#d3d3d3"/>
<text x="52.60" y="798.10" font-size="13.7" fill="#333" textLength="105.38" lengthAdjust="spacing" >Class Leading</text>
<text x="52.18" y="812.00" font-size="13.7" fill="#333" textLength="104.95" lengthAdjust="spacing" >Power Accuracy</text>
<text x="235.48" y="797.10" font-size="10" fill="#2e2b2b" textLength="431.78" lengthAdjust="spacing" >PPA5500-HF Power Accuracy: [0.03% + 0.03%/pf + (0.005% x kHz)/pf] Rdg + 0.03%VA Rng*</text>
<text x="235.61" y="809.70" font-size="8.8" fill="#2e2b2b" textLength="220.82" lengthAdjust="spacing" >@ 220V (300V Range), 2A (3A Range), Power Factor 1</text>
<text x="549.89" y="811.00" font-size="10" fill="#2e2b2b" textLength="122.23" lengthAdjust="spacing" >[40-850Hz 0.01%VA Rng*]</text>
<rect x="193" y="819" width="506.8" height="257.5" rx="2" ry="2" fill="#ffffff"/>
<path d="M254.00,871.30V1043.30M263.71,871.30V1043.30M270.60,871.30V1043.30M275.95,871.30V1043.30M280.32,871.30V1043.30M284.01,871.30V1043.30M287.21,871.30V1043.30M290.03,871.30V1043.30M292.55,871.30V1043.30M309.15,871.30V1043.30M318.86,871.30V1043.30M325.75,871.30V1043.30M331.10,871.30V1043.30M335.47,871.30V1043.30M339.16,871.30V1043.30M342.36,871.30V1043.30M345.18,871.30V1043.30M347.70,871.30V1043.30M364.30,838.20V1043.30M374.01,838.20V1043.30M380.90,838.20V1043.30M386.25,838.20V1043.30M390.62,838.20V1043.30M394.31,838.20V1043.30M397.51,838.20V1043.30M400.33,838.20V1043.30M402.85,838.20V1043.30M419.45,838.20V1043.30M429.16,838.20V1043.30M436.05,838.20V1043.30M441.40,838.20V1043.30M445.77,838.20V1043.30M449.46,838.20V1043.30M452.66,838.20V1043.30M455.48,838.20V1043.30M458.00,838.20V1043.30M474.60,838.20V1043.30M484.31,838.20V1043.30M491.20,838.20V1043.30M496.55,838.20V1043.30M500.92,838.20V1043.30M504.61,838.20V1043.30M507.81,838.20V1043.30M510.63,838.20V1043.30M513.15,838.20V1043.30M529.75,838.20V1043.30M539.46,838.20V1043.30M546.35,838.20V1043.30M551.70,838.20V1043.30M556.07,838.20V1043.30M559.76,838.20V1043.30M562.96,838.20V1043.30M565.78,838.20V1043.30M568.30,838.20V1043.30M584.90,838.20V1043.30M594.61,838.20V1043.30M601.50,838.20V1043.30M606.85,838.20V1043.30M611.22,838.20V1043.30M614.91,838.20V1043.30M618.11,838.20V1043.30M620.93,838.20V1043.30M623.45,838.20V1043.30M640.05,838.20V1043.30M649.76,838.20V1043.30M656.65,838.20V1043.30M662.00,838.20V1043.30M666.37,838.20V1043.30M670.06,838.20V1043.30M673.26,838.20V1043.30M676.08,838.20V1043.30M237.40,1027.86H678.60M237.40,1018.84H678.60M237.40,1012.43H678.60M237.40,1007.46H678.60M237.40,1003.40H678.60M237.40,999.97H678.60M237.40,996.99H678.60M237.40,994.37H678.60M237.40,992.02H678.60M237.40,976.59H678.60M237.40,967.56H678.60M237.40,961.15H678.60M237.40,956.19H678.60M237.40,952.13H678.60M237.40,948.69H678.60M237.40,945.72H678.60M237.40,943.10H678.60M237.40,940.75H678.60M237.40,925.31H678.60M237.40,916.29H678.60M237.40,909.88H678.60M237.40,904.91H678.60M237.40,900.85H678.60M237.40,897.42H678.60M237.40,894.44H678.60M237.40,891.82H678.60M237.40,889.48H678.60M237.40,874.04H678.60M363.40,865.01H678.60M363.40,858.60H678.60M363.40,853.64H678.60M363.40,849.58H678.60M363.40,846.14H678.60M363.40,843.17H678.60M363.40,840.55H678.60" fill="none" stroke="#c8c8c8" stroke-width="1"/>
<rect x="237.4" y="838.2" width="441.20" height="205.10" fill="none" stroke="#8a8a8a" stroke-width="1.1"/>
<line x1="237.4" y1="838.2" x2="237.4" y2="1043.3" stroke="#6a6a6a" stroke-width="1.2"/>
<line x1="237.4" y1="1043.3" x2="678.6" y2="1043.3" stroke="#6a6a6a" stroke-width="1.2"/>
<path d="M237.40,988.50L373.90,988.50L380.80,999.30L454.20,997.80L458.30,987.10L474.60,986.20L496.60,983.50L513.20,980.50L529.80,974.60L551.70,963.20L568.00,951.00L623.00,903.80L640.00,889.20" fill="none" stroke="#c00000" stroke-width="2.6" stroke-linejoin="round" stroke-linecap="round"/>
<path d="M237.40,980.20L373.90,980.20L380.80,986.50L454.20,985.10L458.30,979.00L474.60,977.50L496.60,973.80L513.20,970.00L529.80,963.20L551.40,950.60L568.00,937.60L623.00,888.60L640.00,873.80" fill="none" stroke="#4472a8" stroke-width="2.6" stroke-linejoin="round" stroke-linecap="round"/>
<line x1="243.3" y1="847.4" x2="261.8" y2="847.4" stroke="#4472a8" stroke-width="2.4" stroke-linecap="round"/>
<line x1="243.3" y1="863.2" x2="261.8" y2="863.2" stroke="#c00000" stroke-width="2.4" stroke-linecap="round"/>
<text x="263.04" y="850.10" font-size="8" fill="#222" textLength="82.88" lengthAdjust="spacing" >PPA4500 % Watts dev</text>
<text x="263.04" y="865.80" font-size="8" fill="#222" textLength="93.98" lengthAdjust="spacing" >PPA5500HF % Watts dev</text>
<text x="391.05" y="833.10" font-size="10" fill="#111" textLength="137.40" lengthAdjust="spacingAndGlyphs" font-weight="bold" >Power Accuracy  -  220V at 2A</text>
<text x="229.80" y="841.30" font-size="8.5" fill="#222" text-anchor="end" >100</text>
<text x="229.80" y="892.58" font-size="8.5" fill="#222" text-anchor="end" >10</text>
<text x="229.80" y="943.85" font-size="8.5" fill="#222" text-anchor="end" >1</text>
<text x="229.80" y="995.12" font-size="8.5" fill="#222" text-anchor="end" >0.1</text>
<text x="229.80" y="1046.40" font-size="8.5" fill="#222" text-anchor="end" >0.01</text>
<text x="238.00" y="1057.90" font-size="8.8" fill="#222" text-anchor="middle" >0.1</text>
<text x="293.15" y="1057.90" font-size="8.8" fill="#222" text-anchor="middle" >1</text>
<text x="348.30" y="1057.90" font-size="8.8" fill="#222" text-anchor="middle" >10</text>
<text x="403.45" y="1057.90" font-size="8.8" fill="#222" text-anchor="middle" >100</text>
<text x="458.60" y="1057.90" font-size="8.8" fill="#222" text-anchor="middle" >1000</text>
<text x="513.75" y="1057.90" font-size="8.8" fill="#222" text-anchor="middle" >10000</text>
<text x="568.90" y="1057.90" font-size="8.8" fill="#222" text-anchor="middle" >100000</text>
<text x="624.05" y="1057.90" font-size="8.8" fill="#222" text-anchor="middle" >1000000</text>
<text x="679.20" y="1057.90" font-size="8.8" fill="#222" text-anchor="middle" >10000000</text>
<text x="0" y="0" font-size="10" font-weight="bold" fill="#111" text-anchor="middle" transform="translate(202.8,941.2) rotate(-90)" textLength="70" lengthAdjust="spacingAndGlyphs">Watts % Error</text>
<text x="422.20" y="1071.80" font-size="10.5" fill="#111" textLength="71.08" lengthAdjust="spacing" font-weight="bold" >Frequency Hz</text>
<text x="10.58" y="1111.90" font-size="9.8" fill="#333" textLength="5.81" lengthAdjust="spacing" >4</text>
</svg></body></html>
